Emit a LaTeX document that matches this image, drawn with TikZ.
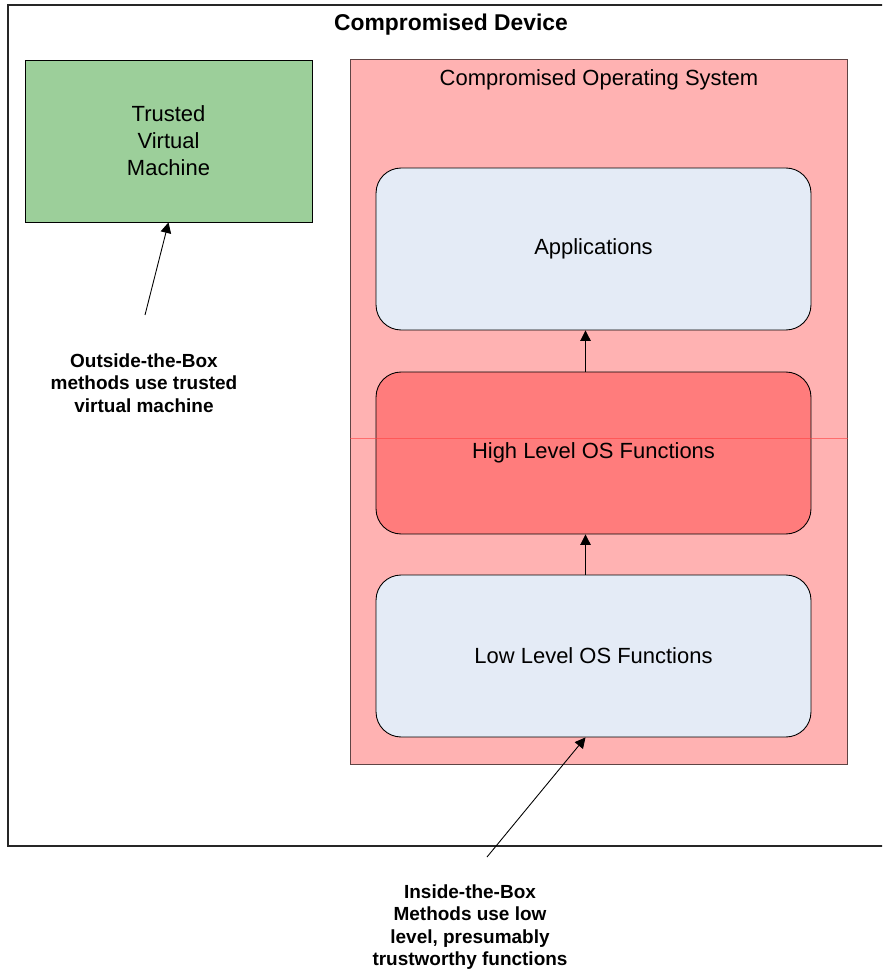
\documentclass[tikz,border=0pt]{standalone}
\usepackage{fontspec}
\setmainfont{Liberation Sans}
\usetikzlibrary{arrows.meta}

\definecolor{tvmgreen}{HTML}{9CCF9A}
\definecolor{ospink}{HTML}{FFB2B2}
\definecolor{osedge}{HTML}{5E4444}
\definecolor{hired}{HTML}{FF7C7C}
\definecolor{layerblue}{HTML}{E4EBF6}

\begin{document}
\begin{tikzpicture}[x=0.02cm,y=-0.02cm,
  layer/.style={draw=black, line width=0.5pt, fill=layerblue, rounded corners=0.5cm,
    minimum width=8.7cm, minimum height=3.24cm, font=\fontsize{12.5}{15}\selectfont},
  note/.style={align=center, font=\fontsize{10.8}{12.7}\bfseries\selectfont},
  tip/.style={-{Triangle[length=6pt,width=6pt]}, line width=0.5pt}]
\useasboundingbox (0,0) rectangle (882,972);
\clip (0,0) rectangle (882,972);
\fill[white] (0,0) rectangle (882,972);

% device frame, runs off the right edge
\draw[line width=0.8pt, black!85] (8,5) rectangle (900,846);
\node[font=\fontsize{13}{15}\bfseries\selectfont] (device) at (451,25) {Compromised Device};

% trusted vm
\node[draw=black, line width=0.5pt, fill=tvmgreen, minimum width=5.74cm, minimum height=3.24cm,
  align=center, font=\fontsize{12.5}{15.4}\selectfont] (tvm) at (168.5,141) {Trusted\\Virtual\\Machine};

% compromised os and its layers
\node[draw=osedge, line width=0.6pt, fill=ospink, minimum width=9.96cm, minimum height=14.12cm, inner sep=0pt] (cos) at (599,412) {};
\node[font=\fontsize{12.5}{15}\selectfont] (costitle) at (599,80) {Compromised Operating System};
\node[layer] (apps) at (593.5,249) {Applications};
\node[layer, fill=hired] (high) at (593.5,453) {High Level OS Functions};
\node[layer] (low) at (593.5,656) {Low Level OS Functions};
\draw[red!75, opacity=0.6, line width=0.4pt] (350,438) -- (848,438);

\draw[tip] ([xshift=-0.16cm]low.north) -- ([xshift=-0.16cm]high.south);
\draw[tip] ([xshift=-0.16cm]high.north) -- ([xshift=-0.16cm]apps.south);

% notes
\node[note] (outside) at (144,383) {Outside-the-Box\\methods use trusted\\virtual machine};
\coordinate (outtail) at (145,315);
\draw[tip] (outtail) -- (tvm.south);

\node[note] (inside) at (470,927) {Inside-the-Box\\Methods use low\\level, presumably\\trustworthy functions};
\coordinate (intail) at (487,857);
\draw[tip] (intail) -- ([xshift=-0.16cm]low.south);
\end{tikzpicture}
\end{document}
